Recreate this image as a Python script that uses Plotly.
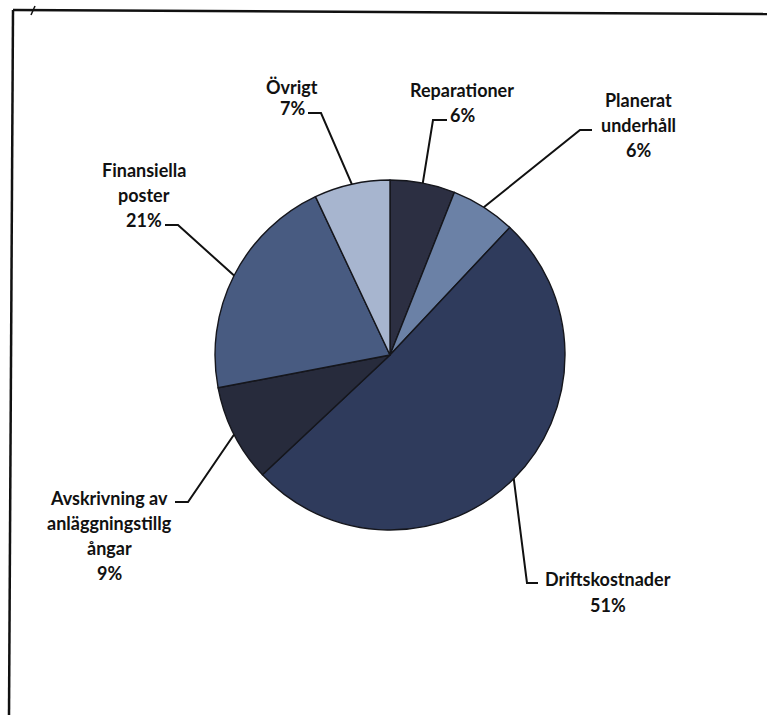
import math
import plotly.graph_objects as go

# ---- data ----
categories = ["Reparationer", "Planerat underhåll", "Driftskostnader",
              "Avskrivning av anläggningstillgångar", "Finansiella poster", "Övrigt"]
values = [6, 6, 51, 9, 21, 7]
label_lines = [["Reparationer"], ["Planerat", "underhåll"], ["Driftskostnader"],
               ["Avskrivning av", "anläggningstillg", "ångar"], ["Finansiella", "poster"], ["Övrigt"]]

# ---- style / layout ----
colors = ["#2c2f42", "#6b81a6", "#2f3b5c", "#272b3c", "#485b81", "#a7b5cf"]
W, H = 767, 715
CX, CY, R = 390, 355, 175
# label centre x, first line centre y, line gap (px); leader elbow and end (px)
label_pos = [(462, 90, 25), (638, 100, 25), (608, 579, 26), (109, 498, 25), (144, 170, 25), (292, 87, 21)]
elbows = [((433, 120), (447, 120)), ((580, 130), (592, 130)), ((527, 583), (538, 583)),
          ((188, 502), (175, 502)), ((178, 225), (165, 225)), ((321, 113), (308, 113))]

def px(x):
    return x / W

def py(y):
    return 1 - y / H

fig = go.Figure(go.Pie(
    labels=categories, values=values, sort=False, direction="clockwise", rotation=0,
    marker=dict(colors=colors, line=dict(color="#15161c", width=1.4)),
    textinfo="none", hoverinfo="label+percent", showlegend=False,
    domain=dict(x=[px(CX - R), px(CX + R)], y=[py(CY + R), py(CY - R)]),
))

font = dict(family="Lato", size=18, color="#111111")
annotations = []
shapes = []
total = sum(values)
cum = 0
for i, v in enumerate(values):
    mid = (cum + v / 2) / total * 2 * math.pi
    cum += v
    ax = CX + R * math.sin(mid)
    ay = CY - R * math.cos(mid)
    (ex, ey), (tx, ty) = elbows[i]
    shapes.append(dict(type="path", xref="paper", yref="paper",
                       path=f"M {px(ax)},{py(ay)} L {px(ex)},{py(ey)} L {px(tx)},{py(ty)}",
                       line=dict(color="#111111", width=2)))
    lines = label_lines[i] + [f"{round(v / total * 100)}%"]
    lx, ly, gap = label_pos[i]
    for k, t in enumerate(lines):
        annotations.append(dict(x=px(lx), y=py(ly + k * gap), xref="paper", yref="paper",
                                text=f"<b>{t}</b>", showarrow=False, font=font,
                                xanchor="center", yanchor="middle"))

# scanned frame lines
shapes.append(dict(type="line", xref="paper", yref="paper", x0=px(13), y0=py(10), x1=px(767), y1=py(14),
                   line=dict(color="#111111", width=2.5)))
shapes.append(dict(type="line", xref="paper", yref="paper", x0=px(13), y0=py(10), x1=px(9), y1=py(715),
                   line=dict(color="#111111", width=2.5)))
shapes.append(dict(type="line", xref="paper", yref="paper", x0=px(31), y0=py(15), x1=px(35), y1=py(6),
                   line=dict(color="#111111", width=1.5)))

fig.update_layout(width=W, height=H, margin=dict(l=0, r=0, t=0, b=0),
                  paper_bgcolor="white", plot_bgcolor="white",
                  annotations=annotations, shapes=shapes)
fig.write_html("out.html")
